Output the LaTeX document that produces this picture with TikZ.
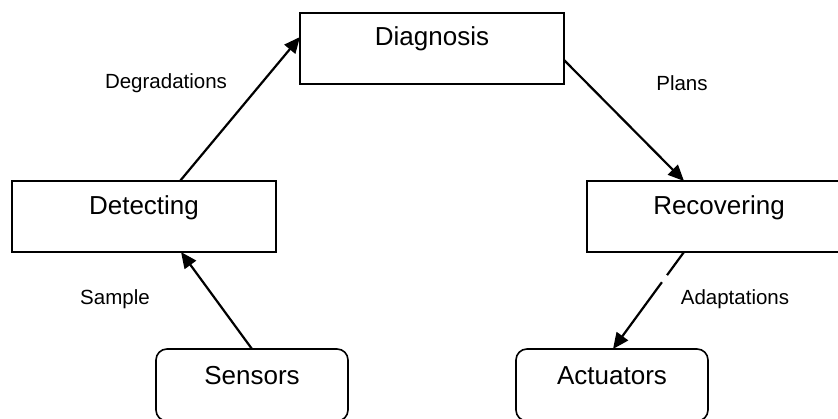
\documentclass[tikz,border=0pt]{standalone}
\usepackage{fontspec}
\setmainfont{Liberation Sans}
\usetikzlibrary{arrows.meta}
\begin{document}
\begin{tikzpicture}[x=1pt,y=-1pt,
  box/.style={draw,line width=1.6pt,minimum width=264pt,minimum height=71pt,inner sep=0pt},
  rbox/.style={draw,line width=1.6pt,rounded corners=11pt,minimum width=192pt,minimum height=72pt,inner sep=0pt},
  boxtext/.style={font=\fontsize{26}{30}\selectfont,inner sep=0pt},
  lbl/.style={font=\fontsize{20.5}{24}\selectfont,inner sep=0pt},
  conn/.style={line width=2.2pt,-{Triangle[length=16pt,width=14pt]}}]
\useasboundingbox (0,0) rectangle (838,418);
\fill[white] (0,0) rectangle (838,418);
\node[box] (diag) at (432,48.5) {};
\node[box] (det) at (144,216.5) {};
\node[box] (rec) at (719,216.5) {};
\node[rbox] (sen) at (252,385) {};
\node[rbox] (act) at (612,385) {};
\node[boxtext] (tdiag) at (432,39) {Diagnosis};
\node[boxtext] (tdet) at (144,208) {Detecting};
\node[boxtext] (trec) at (719,208) {Recovering};
\node[boxtext] (tsen) at (252,376) {Sensors};
\node[boxtext] (tact) at (612,376) {Actuators};
\coordinate (a1) at (180,181);
\coordinate (a2) at (300,37);
\coordinate (b1) at (564,60);
\coordinate (b2) at (684,181);
\coordinate (c1) at (252,349);
\coordinate (c2) at (181,252);
\coordinate (d1) at (684,252);
\coordinate (d2) at (613,349);
\draw[conn] (a1) -- (a2);
\draw[conn] (b1) -- (b2);
\draw[conn] (c1) -- (c2);
\draw[conn] (d1) -- (d2);
\path (d1) -- (d2) coordinate[pos=0.24] (g1) coordinate[pos=0.31] (g2);
\draw[white,line width=4pt] (g1) -- (g2);
\node[lbl] (ldeg) at (166,83) {Degradations};
\node[lbl] (lpl) at (682,83) {Plans};
\node[lbl] (lsam) at (115,299) {Sample};
\node[lbl] (lad) at (735,299) {Adaptations};
\end{tikzpicture}
\end{document}
